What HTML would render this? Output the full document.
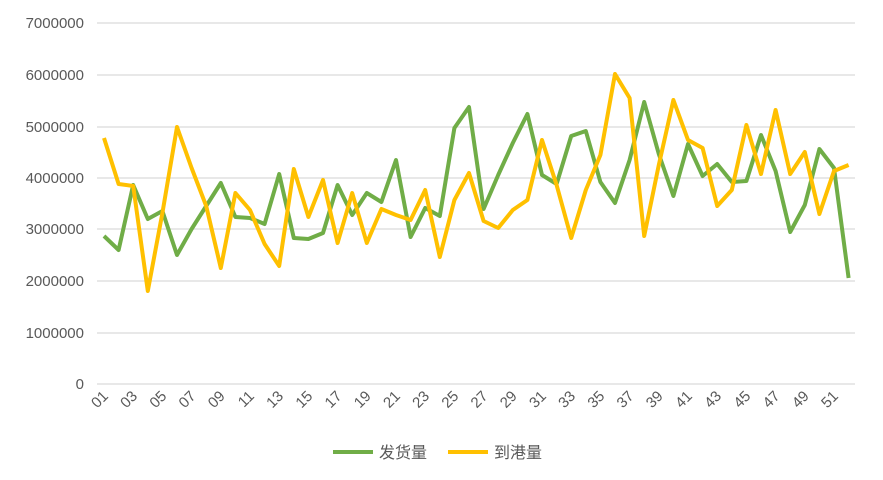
<!DOCTYPE html>
<html><head><meta charset="utf-8"><style>
html,body{margin:0;padding:0;background:#fff;}
svg{display:block;font-family:"Liberation Sans","Noto Sans CJK SC",sans-serif;}
</style></head><body>
<svg width="883" height="480" viewBox="0 0 883 480" xmlns="http://www.w3.org/2000/svg">
<g stroke="#d9d9d9" stroke-width="1.3">
<line x1="97" x2="855" y1="23" y2="23"/><line x1="97" x2="855" y1="75" y2="75"/><line x1="97" x2="855" y1="127" y2="127"/><line x1="97" x2="855" y1="178" y2="178"/><line x1="97" x2="855" y1="229" y2="229"/><line x1="97" x2="855" y1="281" y2="281"/><line x1="97" x2="855" y1="333" y2="333"/><line x1="97" x2="855" y1="384" y2="384"/>
</g>
<g fill="#595959" font-size="15" text-anchor="end">
<text x="84" y="28">7000000</text><text x="84" y="80">6000000</text><text x="84" y="132">5000000</text><text x="84" y="183">4000000</text><text x="84" y="234">3000000</text><text x="84" y="286">2000000</text><text x="84" y="338">1000000</text><text x="84" y="389">0</text>
</g>
<g id="xl" fill="#595959" font-size="15" text-anchor="end"></g>
<polyline id="g" fill="none" stroke="#70ad47" stroke-width="4" stroke-linejoin="round"/>
<polyline id="y" fill="none" stroke="#ffc000" stroke-width="4" stroke-linejoin="round"/>
<line x1="333" x2="373" y1="452" y2="452" stroke="#70ad47" stroke-width="4"/>
<text x="379" y="458" font-size="16" fill="#595959">发货量</text>
<line x1="448" x2="488" y1="452" y2="452" stroke="#ffc000" stroke-width="4"/>
<text x="494" y="458" font-size="16" fill="#595959">到港量</text>
</svg>
<script>
var G=[236,250,185,219,211,255,229,206,183,217,218,224,174,238,239,233,185,215,193,202,160,237,208,216,128,107,209,175,143,114,175,184,136,131,182,203,160,102,154,196,144,176,164,182,181,135,171,232,205,149,168,278];
var Y=[138,184,186,291,213,127,168,206,268,193,210,244,266,169,217,180,243,193,243,209,215,220,190,257,200,173,221,228,210,200,140,185,238,190,155,74,98,236,165,100,140,148,206,190,125,174,110,174,152,214,171,165];
function pts(a){return a.map(function(v,i){return (104+i*14.6).toFixed(1)+","+v}).join(" ");}
document.getElementById("g").setAttribute("points",pts(G));
document.getElementById("y").setAttribute("points",pts(Y));
var xl=document.getElementById("xl"),s="";
for(var i=1;i<=51;i+=2){var x=104+(i-1)*14.6+5,y=397;var t=(i<10?"0":"")+i;
s+='<text x="'+x+'" y="'+y+'" transform="rotate(-45 '+x+' '+y+')">'+t+'</text>';}
xl.innerHTML=s;
</script>
</body></html>
